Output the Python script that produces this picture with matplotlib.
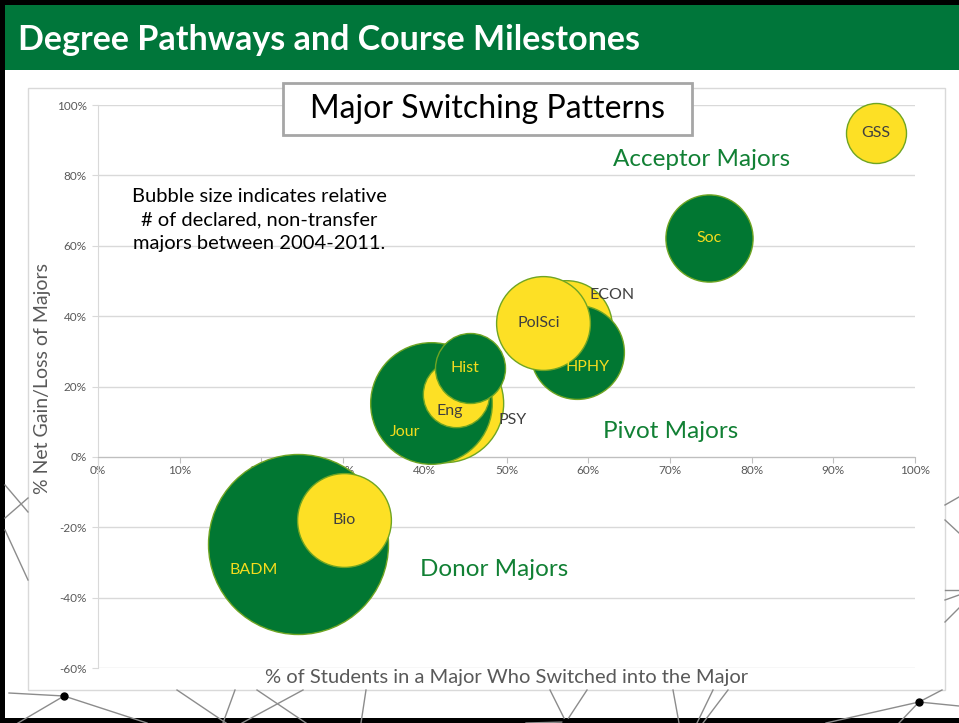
import matplotlib.pyplot as plt
from matplotlib.patches import Rectangle
from matplotlib.ticker import FuncFormatter

# data
majors = ["BADM", "Bio", "PSY", "Jour", "Eng", "Hist", "ECON", "HPHY", "PolSci", "Soc", "GSS"]
pct_switched_in = [24.5, 30.1, 42.4, 40.8, 43.8, 45.5, 57.3, 58.6, 54.5, 74.8, 95.2]
net_gain = [-24.7, -17.9, 15.3, 15.3, 17.9, 25.3, 37.2, 29.8, 38.0, 62.2, 92.0]
rel_majors = [8100, 2200, 3500, 3700, 1100, 1225, 2100, 2200, 2200, 1900, 900]
fill = ["green", "yellow", "yellow", "green", "yellow", "green", "yellow", "green", "yellow", "green", "yellow"]

x_ticks = list(range(0, 101, 10))
y_ticks = list(range(-60, 101, 20))

GREEN = "#017732"
YELLOW = "#FDE025"
EDGE = "#6FA523"
TEXT_GREEN = "#118034"
GREY = "#595959"
colors = {"green": GREEN, "yellow": YELLOW}
label_color = {"green": "#F4DC1E", "yellow": "#3F3F3F"}
# label offsets in pixels (right, down) as placed on the slide
label_off = {"ECON": (46, -31), "HPHY": (11, 15), "PolSci": (-5, 0), "Hist": (-5, 0),
             "Eng": (-6, 17), "PSY": (68, 17), "Jour": (-26, 29), "BADM": (-44, 26)}

W, H = 959, 723
plt.rcParams['font.family'] = ['Lato', 'DejaVu Sans']
fig = plt.figure(figsize=(W / 100, H / 100), dpi=100)


def pixel_layer(z):
    a = fig.add_axes([0, 0, 1, 1], zorder=z)
    a.set_xlim(0, W)
    a.set_ylim(H, 0)
    a.axis("off")
    a.patch.set_alpha(0)
    return a


# background layer in pixel coordinates
bg = pixel_layer(0)

net = [((9, 693), (64, 696)), ((64, 696), (147, 723)), ((64, 696), (18, 723)),
       ((177, 690), (226, 723)), ((235, 690), (223, 723)), ((257, 690), (306, 723)),
       ((303, 690), (242, 723)), ((366, 690), (361, 723)), ((550, 690), (566, 722)),
       ((587, 690), (566, 722)), ((566, 722), (526, 723)), ((673, 690), (679, 723)),
       ((713, 690), (697, 723)), ((728, 690), (703, 723)), ((919, 702), (959, 706)),
       ((919, 702), (826, 723)), ((919, 702), (899, 723)), ((919, 702), (942, 690)),
       ((945, 505), (959, 497)), ((945, 520), (959, 533)), ((945, 590), (959, 590)),
       ((945, 600), (959, 595)), ((945, 622), (959, 608)), ((5, 485), (28, 512)),
       ((5, 518), (28, 498)), ((5, 530), (28, 580))]
for (x0, y0), (x1, y1) in net:
    bg.plot([x0, x1], [y0, y1], color="#8C8C8C", lw=1)
for px, py in [(64, 696), (566, 722), (919, 702)]:
    bg.plot(px, py, "o", color="black", ms=5)

# header bar and slide frame
bg.add_patch(Rectangle((5, 5), W - 5, 65, facecolor="#00763A", edgecolor="none"))
bg.add_patch(Rectangle((0, 0), W, 5, facecolor="black", edgecolor="none"))
bg.add_patch(Rectangle((0, 0), 5, H, facecolor="black", edgecolor="none"))
bg.add_patch(Rectangle((0, H - 5), W, 5, facecolor="black", edgecolor="none"))
bg.text(18, 40, "Degree Pathways and Course Milestones", color="white",
        fontsize=24.5, fontweight="bold", va="center", ha="left")

# chart area
bg.add_patch(Rectangle((28, 88), 917, 602, facecolor="white", edgecolor="#D9D9D9", lw=1))

# plot area
ax = fig.add_axes([98 / W, 1 - 668 / H, 817 / W, 563 / H], zorder=1)
ax.set_facecolor("none")
ax.set_xlim(0, 100)
ax.set_ylim(-60, 100)
ax.set_xticks(x_ticks)
ax.set_yticks(y_ticks)
pct = FuncFormatter(lambda v, p: "%d%%" % v)
ax.xaxis.set_major_formatter(pct)
ax.yaxis.set_major_formatter(pct)
ax.grid(axis="y", color="#D9D9D9", lw=1)
ax.set_axisbelow(True)
for s in ["top", "right"]:
    ax.spines[s].set_visible(False)
ax.spines["bottom"].set_position(("data", 0))
ax.spines["bottom"].set_color("#BFBFBF")
ax.spines["left"].set_color("#D9D9D9")
ax.tick_params(axis="x", colors="#BFBFBF", labelcolor=GREY, labelsize=8.5, length=4, pad=2)
ax.tick_params(axis="y", colors="#D9D9D9", labelcolor=GREY, labelsize=8.5, length=4, pad=4)

px2pt = 0.72
for i, name in enumerate(majors):
    s = rel_majors[i] * (2 * px2pt) ** 2
    ax.scatter(pct_switched_in[i], net_gain[i], s=s, color=colors[fill[i]],
               edgecolor=EDGE, lw=1, zorder=3 + i, clip_on=False)
    dx, dy = label_off.get(name, (0, 0))
    ax.annotate(name, (pct_switched_in[i], net_gain[i]), xytext=(dx * px2pt, -dy * px2pt),
                textcoords="offset points", ha="center", va="center", fontsize=11.5,
                color=label_color[fill[i]] if name not in ("ECON", "PSY") else "#3F3F3F",
                zorder=20)

# text on the slide, above the plot
top = pixel_layer(2)
top.add_patch(Rectangle((283, 83), 409, 52, facecolor="white", edgecolor="#A6A6A6", lw=2))
top.text(487, 109, "Major Switching Patterns", fontsize=23, color="black",
         ha="center", va="center")
top.text(702, 160, "Acceptor Majors", fontsize=17.5, color=TEXT_GREEN, ha="center", va="center")
top.text(671, 431, "Pivot Majors", fontsize=17.5, color=TEXT_GREEN, ha="center", va="center")
top.text(494, 570, "Donor Majors", fontsize=17.5, color=TEXT_GREEN, ha="center", va="center")
top.text(259, 220, "Bubble size indicates relative\n# of declared, non-transfer\nmajors between 2004-2011.",
         fontsize=14.5, color="black", ha="center", va="center", linespacing=1.5)
top.text(507, 677, "% of Students in a Major Who Switched into the Major",
         fontsize=14.5, color=GREY, ha="center", va="center")
top.text(43, 378, "% Net Gain/Loss of Majors", fontsize=14, color=GREY,
         ha="center", va="center", rotation=90)

fig.savefig("out.png", dpi=100)
